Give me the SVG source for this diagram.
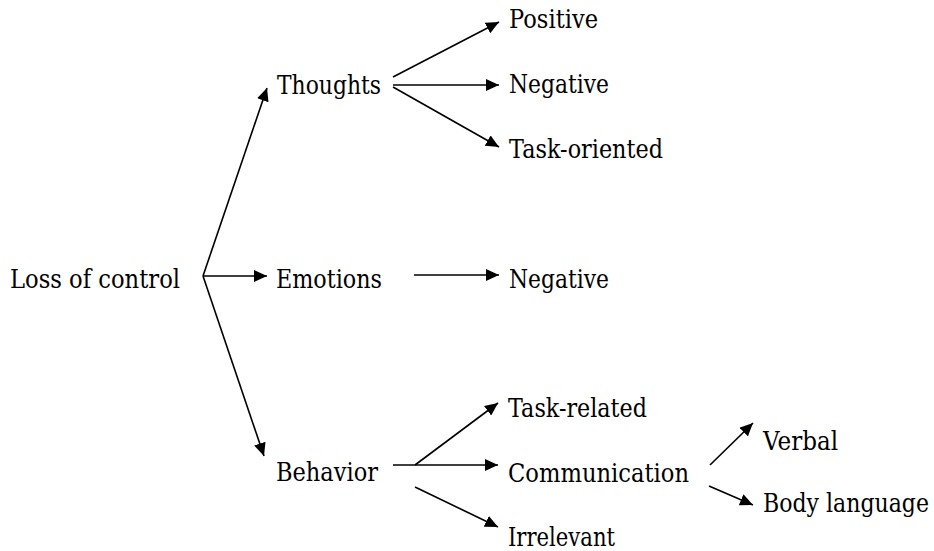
<svg xmlns="http://www.w3.org/2000/svg" width="934" height="551" viewBox="0 0 934 551">
<style>
.t text { font-family: "DejaVu Serif", "Liberation Serif", serif; font-size: 26px; fill: #000; }
.c line { stroke: #000; stroke-width: 1.6; marker-end: url(#ah); }
</style>
<defs>
<marker id="ah" markerUnits="userSpaceOnUse" markerWidth="14" markerHeight="12" refX="13" refY="6" orient="auto">
<path d="M0,0 L13,6 L0,12 z" fill="#000"/>
</marker>
</defs>
<rect width="934" height="551" fill="#fff"/>
<g id="connectors" class="c">
<line x1="203" y1="276" x2="267" y2="88"/>
<line x1="203" y1="276" x2="267" y2="276"/>
<line x1="203" y1="276" x2="264" y2="456"/>
<line x1="393" y1="77" x2="499" y2="22"/>
<line x1="393" y1="85" x2="499" y2="85"/>
<line x1="393" y1="87" x2="499" y2="147"/>
<line x1="414" y1="275" x2="499" y2="275"/>
<line x1="415" y1="465" x2="498" y2="403"/>
<line x1="393" y1="465" x2="498" y2="465"/>
<line x1="415" y1="487" x2="498" y2="527"/>
<line x1="710" y1="465" x2="753" y2="423"/>
<line x1="709" y1="486" x2="753" y2="505"/>
</g>
<g class="t">
<g id="loss"><text x="10" y="288" textLength="170" lengthAdjust="spacingAndGlyphs">Loss of control</text></g>
<g id="thoughts"><text x="277" y="94" textLength="104" lengthAdjust="spacingAndGlyphs">Thoughts</text></g>
<g id="emotions"><text x="276" y="288" textLength="106" lengthAdjust="spacingAndGlyphs">Emotions</text></g>
<g id="behavior"><text x="276" y="481" textLength="102" lengthAdjust="spacingAndGlyphs">Behavior</text></g>
<g id="positive"><text x="509" y="28" textLength="89" lengthAdjust="spacingAndGlyphs">Positive</text></g>
<g id="negative1"><text x="509" y="93" textLength="100" lengthAdjust="spacingAndGlyphs">Negative</text></g>
<g id="task-oriented"><text x="509" y="158" textLength="154" lengthAdjust="spacingAndGlyphs">Task-oriented</text></g>
<g id="negative2"><text x="509" y="288" textLength="100" lengthAdjust="spacingAndGlyphs">Negative</text></g>
<g id="task-related"><text x="508" y="417" textLength="139" lengthAdjust="spacingAndGlyphs">Task-related</text></g>
<g id="communication"><text x="508" y="482" textLength="181" lengthAdjust="spacingAndGlyphs">Communication</text></g>
<g id="irrelevant"><text x="508" y="546" textLength="107" lengthAdjust="spacingAndGlyphs">Irrelevant</text></g>
<g id="verbal"><text x="763" y="450" textLength="75" lengthAdjust="spacingAndGlyphs">Verbal</text></g>
<g id="body-language"><text x="763" y="512" textLength="166" lengthAdjust="spacingAndGlyphs">Body language</text></g>
</g>
</svg>
